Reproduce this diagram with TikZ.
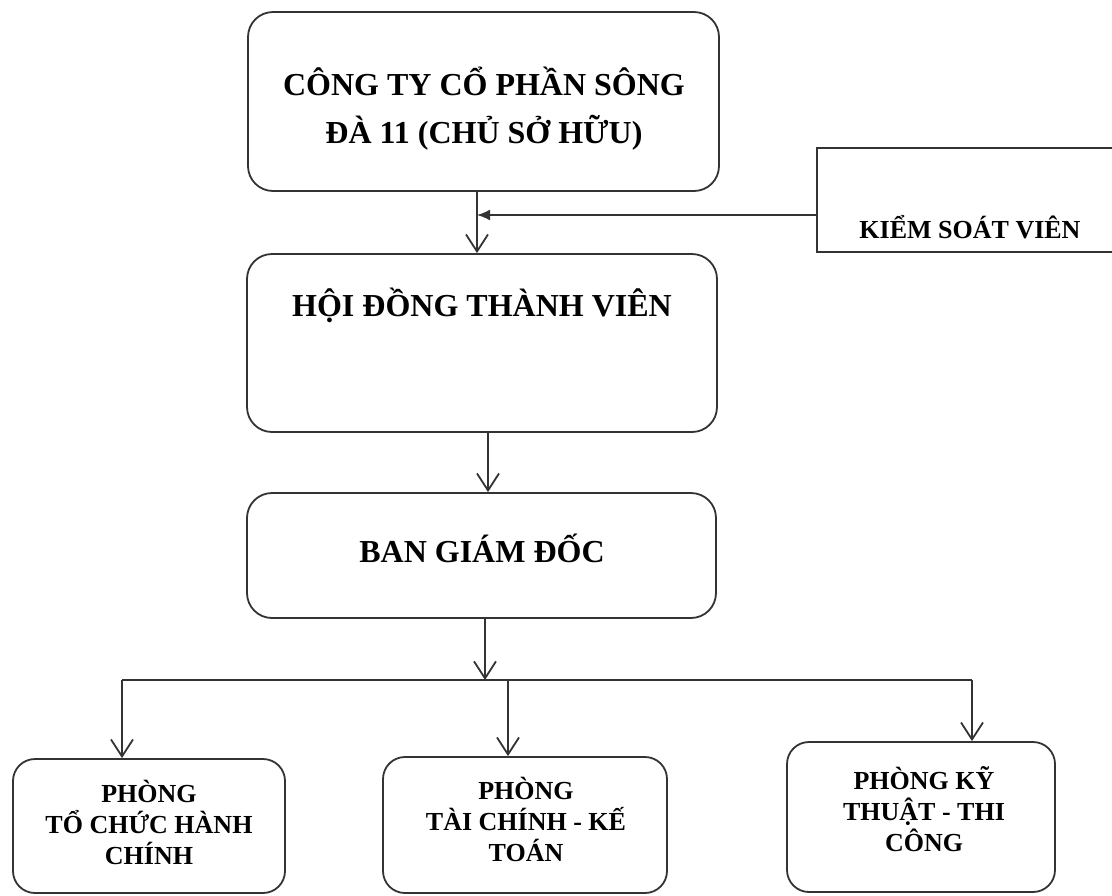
\documentclass[tikz,border=0pt]{standalone}
\usepackage{fontspec}
\setmainfont{Liberation Serif}
\usetikzlibrary{arrows.meta}
\begin{document}
\begin{tikzpicture}[x=1pt,y=-1pt,
  box/.style={draw=black!80, line width=1.8pt, rounded corners=25pt, inner sep=0pt},
  sqbox/.style={draw=black!80, line width=1.8pt, inner sep=0pt},
  conn/.style={draw=black!80, line width=1.8pt},
  arr/.style={conn, -{Straight Barb[length=17pt,width=22pt,line width=1.8pt]}},
  farr/.style={conn, -{Latex[length=13pt,width=11pt]}},
  big/.style={font=\bfseries\fontsize{32}{48}\selectfont, align=center, inner sep=0pt},
  small/.style={font=\bfseries\fontsize{26}{31}\selectfont, align=center, inner sep=0pt}]
\useasboundingbox (0,0) rectangle (1112,895);

% boxes
\node[box, minimum width=471pt, minimum height=179pt] (top) at (483.5,101.5) {};
\node[sqbox, minimum width=313pt, minimum height=104pt] (ksv) at (973.5,200) {};
\node[box, minimum width=470pt, minimum height=178pt] (hd) at (482,343) {};
\node[box, minimum width=469pt, minimum height=125pt] (ban) at (481.5,555.5) {};
\node[box, rounded corners=22pt, minimum width=272pt, minimum height=134pt] (p1) at (149,826) {};
\node[box, rounded corners=22pt, minimum width=284pt, minimum height=136pt] (p2) at (525,825) {};
\node[box, rounded corners=22pt, minimum width=268pt, minimum height=150pt] (p3) at (921,817) {};

% texts
\node[big] (ttop) at (484,109) {CÔNG TY CỔ PHẦN SÔNG\\ĐÀ 11 (CHỦ SỞ HỮU)};
\node[small] (tksv) at (970,227) {KIỂM SOÁT VIÊN};
\node[big] (thd) at (482,305) {HỘI ĐỒNG THÀNH VIÊN};
\node[big] (tban) at (482,548) {BAN GIÁM ĐỐC};
\node[small] (tp1) at (149,822) {PHÒNG\\TỔ CHỨC HÀNH\\CHÍNH};
\node[small] (tp2) at (526,819) {PHÒNG\\TÀI CHÍNH - KẾ\\TOÁN};
\node[small] (tp3) at (924,809) {PHÒNG KỸ\\THUẬT - THI\\CÔNG};

% connectors
\coordinate (j) at (477,215);
\coordinate (c2) at (488,0);
\coordinate (c3) at (485,680);
\coordinate (bl) at (122,680);
\coordinate (bm) at (508,680);
\coordinate (br) at (972,680);

\draw[arr] (top.south -| j) -- (hd.north -| j);
\draw[farr] (ksv.west |- j) -- (j);
\draw[arr] (hd.south -| c2) -- (ban.north -| c2);
\draw[arr] (ban.south -| c3) -- (c3);
\draw[conn] (bl) -- (br);
\draw[arr] (bl) -- (p1.north -| bl);
\draw[arr] (bm) -- (p2.north -| bm);
\draw[arr] (br) -- (p3.north -| br);
\end{tikzpicture}
\end{document}
